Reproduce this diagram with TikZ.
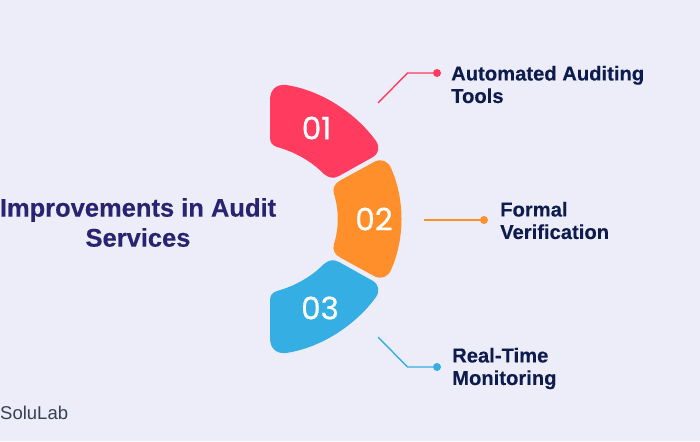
\documentclass[tikz,border=0pt]{standalone}
\usepackage{fontspec}
\setmainfont{Liberation Sans}[BoldFeatures={FakeBold=0.25}]
\newfontfamily\numfont[FakeBold=0.5]{Poppins}
\definecolor{bgc}{HTML}{ECEDF8}
\definecolor{redc}{HTML}{FF3B5F}
\definecolor{orac}{HTML}{FF8F2B}
\definecolor{bluc}{HTML}{35AEE4}
\definecolor{headc}{HTML}{2A2371}
\definecolor{labc}{HTML}{0E1B4F}
\definecolor{logoc}{HTML}{3A3F55}
\tikzset{
  lab/.style={font=\bfseries\fontsize{20.2}{22.5}\selectfont,text=labc,align=left,inner sep=0pt,anchor=west},
  num/.style={font=\numfont\fontsize{31}{31}\selectfont,text=white,inner sep=0pt},
  headt/.style={font=\bfseries\fontsize{25.5}{30}\selectfont,text=headc,align=center,inner sep=0pt},
  conn/.style={line width=1.4pt},
  dot/.style={circle,inner sep=0pt,minimum size=8pt}
}
\begin{document}
\begin{tikzpicture}[x=1pt,y=-1pt]
\useasboundingbox (0,0) rectangle (700,441);
\fill[bgc] (0,0) rectangle (700,441);
% 01
\fill[redc] (270,100) .. controls (270,90) and (276,84) .. (286,85)
  .. controls (320,90) and (355,112) .. (376,141)
  .. controls (380,147) and (379,153) .. (373,157)
  -- (339,176) .. controls (333,179) and (329,178) .. (324,174)
  .. controls (311,161) and (295,152) .. (277,147)
  .. controls (272,145) and (270,143) .. (270,137) -- cycle;
% 03
\fill[bluc] (270,338) .. controls (270,348) and (276,354) .. (286,353)
  .. controls (320,348) and (355,326) .. (376,297)
  .. controls (380,291) and (379,285) .. (373,281)
  -- (339,262) .. controls (333,259) and (329,260) .. (324,264)
  .. controls (311,277) and (295,286) .. (277,291)
  .. controls (272,293) and (270,295) .. (270,301) -- cycle;
% 02
\fill[orac] (341,180) -- (374,162) .. controls (381,158) and (388,161) .. (391,168)
  .. controls (405,200) and (405,238) .. (391,270)
  .. controls (388,277) and (381,280) .. (374,276)
  -- (341,258) .. controls (335,255) and (332,250) .. (334,244)
  .. controls (339,228) and (339,210) .. (334,194)
  .. controls (332,188) and (335,183) .. (341,180) -- cycle;
\node[num] (n1) at (316.5,128) {01};
\node[num] (n2) at (374,219) {02};
\node[num] (n3) at (320,308) {03};
\node[headt] (title) at (138,222.5) {Improvements in Audit\\Services};
\node[lab] (l1) at (451,84.5) {Automated Auditing\\Tools};
\node[lab] (l2) at (500,220.5) {Formal\\Verification};
\node[lab] (l3) at (452,368.5) {Real-Time\\Monitoring};
\node[font=\fontsize{18.5}{18.5}\selectfont,text=logoc,inner sep=0pt,anchor=west] (logo) at (0,413) {SoluLab};
% connectors
\node[dot,fill=redc] (d1) at (437,73) {};
\node[dot,fill=orac] (d2) at (484,220) {};
\node[dot,fill=bluc] (d3) at (437,367) {};
\coordinate (a1) at (378,103);
\coordinate (b1) at (407.5,73);
\coordinate (a2) at (424,220);
\coordinate (a3) at (378,337);
\coordinate (b3) at (407.5,367);
\draw[conn,redc] (a1) -- (b1) -- (d1);
\draw[conn,orac] (a2) -- (d2);
\draw[conn,bluc] (a3) -- (b3) -- (d3);
\end{tikzpicture}
\end{document}
